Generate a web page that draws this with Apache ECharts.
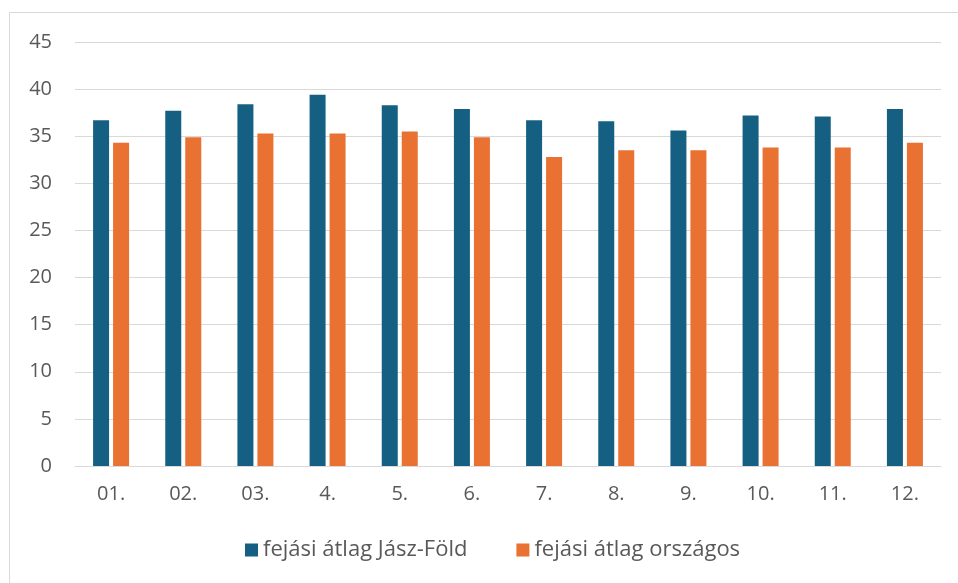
<!DOCTYPE html>
<html>
<head>
<meta charset="utf-8">
<script src="https://cdn.jsdelivr.net/npm/echarts@6/dist/echarts.min.js"></script>
<style>
  html, body { margin: 0; padding: 0; background: #fff; }
  #chart { width: 958px; height: 583px; }
</style>
</head>
<body>
<div id="chart"></div>
<script>
var months = ['01.', '02.', '03.', '4.', '5.', '6.', '7.', '8.', '9.', '10.', '11.', '12.'];
var jaszFold = [36.7, 37.7, 38.4, 39.4, 38.3, 37.9, 36.7, 36.6, 35.6, 37.2, 37.1, 37.9];
var orszagos = [34.3, 34.9, 35.3, 35.3, 35.5, 34.9, 32.8, 33.5, 33.5, 33.8, 33.8, 34.3];

var font = '"Open Sans", "Liberation Sans", sans-serif';
var myChart = echarts.init(document.getElementById('chart'));

var option = {
    backgroundColor: '#fff',
    animation: false,
    color: ['#156082', '#E97132'],
    graphic: [{
        type: 'rect',
        shape: { x: 9.5, y: 12.5, width: 1000, height: 700 },
        style: { fill: null, stroke: '#d9d9d9', lineWidth: 1 },
        silent: true
    }],
    grid: {
        left: 75,
        right: 17,
        top: 42,
        bottom: 117
    },
    legend: {
        left: 240,
        top: 534,
        itemWidth: 13,
        itemHeight: 13,
        itemGap: 49,
        icon: 'rect',
        textStyle: {
            color: '#595959',
            fontSize: 22,
            fontFamily: font
        },
        data: ['fejási átlag Jász-Föld', 'fejási átlag országos']
    },
    xAxis: {
        type: 'category',
        data: months,
        axisLine: { lineStyle: { color: '#d9d9d9', width: 1 } },
        axisTick: { show: false },
        axisLabel: {
            color: '#595959',
            fontSize: 20,
            fontFamily: font,
            margin: 18
        }
    },
    yAxis: {
        type: 'value',
        min: 0,
        max: 45,
        interval: 5,
        axisLine: { show: false },
        axisTick: { show: false },
        splitLine: { lineStyle: { color: '#d9d9d9', width: 1 } },
        axisLabel: {
            color: '#595959',
            fontSize: 20,
            fontFamily: font,
            margin: 23
        }
    },
    series: [
        {
            name: 'fejási átlag Jász-Föld',
            type: 'bar',
            barWidth: 16,
            barGap: '25%',
            data: jaszFold
        },
        {
            name: 'fejási átlag országos',
            type: 'bar',
            barWidth: 16,
            barGap: '25%',
            data: orszagos
        }
    ]
};

myChart.setOption(option);
</script>
</body>
</html>
